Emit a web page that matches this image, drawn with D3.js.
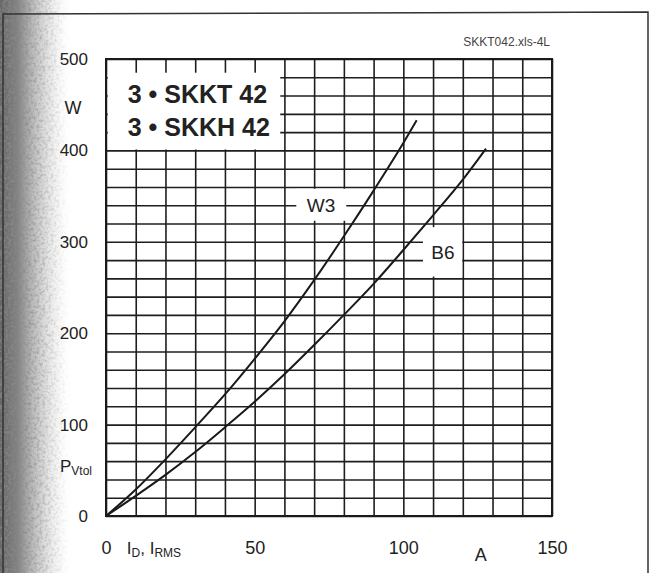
<!DOCTYPE html>
<html>
<head>
<meta charset="utf-8">
<script src="https://cdn.jsdelivr.net/npm/d3@7"></script>
<style>
  body { margin: 0; background: #fff; }
  svg { display: block; }
  text { font-family: "Liberation Sans", Arial, sans-serif; fill: #222; }
</style>
</head>
<body>
<div id="chart"></div>
<script>
// curve data: current in A, power loss in W
const w3Current = [0, 10, 20, 30, 40, 50, 60, 70, 80, 90, 100, 104.5];
const w3Power   = [0, 29, 62, 97, 133, 172, 213, 258, 306, 356, 408, 433];
const b6Current = [0, 10, 20, 30, 40, 50, 60, 70, 80, 90, 100, 110, 120, 127.8];
const b6Power   = [0, 22, 45, 70, 97, 125, 155, 187, 220, 254, 291, 329, 368, 402];

const xTicks = [0, 50, 100, 150];
const yTicks = [0, 100, 200, 300, 400, 500];
const legendLines = ["3 \u2022 SKKT 42", "3 \u2022 SKKH 42"];

const W = 653, H = 573;
const margin = {top: 59, right: 101, bottom: 57, left: 106};
const width = W - margin.left - margin.right;
const height = H - margin.top - margin.bottom;

let svg = d3.select('#chart').append('svg')
  .attr('width', W)
  .attr('height', H);

// scanner shadow on the left edge
let defs = svg.append('defs');
let grad = defs.append('linearGradient').attr('id', 'shade').attr('x1', 0).attr('x2', 1);
grad.append('stop').attr('offset', 0).attr('stop-color', '#666').attr('stop-opacity', 1);
grad.append('stop').attr('offset', 0.25).attr('stop-color', '#7c7c7c').attr('stop-opacity', 0.95);
grad.append('stop').attr('offset', 0.55).attr('stop-color', '#aaa').attr('stop-opacity', 0.6);
grad.append('stop').attr('offset', 0.8).attr('stop-color', '#d8d8d8').attr('stop-opacity', 0.3);
grad.append('stop').attr('offset', 1).attr('stop-color', '#fff').attr('stop-opacity', 0);

let noise = defs.append('filter').attr('id', 'grain').attr('x', 0).attr('y', 0).attr('width', 1).attr('height', 1);
noise.append('feTurbulence').attr('type', 'fractalNoise').attr('baseFrequency', 0.35).attr('numOctaves', 3).attr('result', 'n');
noise.append('feColorMatrix').attr('in', 'n').attr('type', 'matrix')
  .attr('values', '0 0 0 0 0.25  0 0 0 0 0.25  0 0 0 0 0.25  0 0 0 2.2 -0.9').attr('result', 'dots');
noise.append('feComposite').attr('in', 'dots').attr('in2', 'SourceGraphic').attr('operator', 'in').attr('result', 'd2');
noise.append('feMerge').call(m => {
  m.append('feMergeNode').attr('in', 'SourceGraphic');
  m.append('feMergeNode').attr('in', 'd2');
});

svg.append('rect').attr('x', 0).attr('y', 0).attr('width', 70).attr('height', H)
  .attr('fill', 'url(#shade)').attr('filter', 'url(#grain)');

// page frame
svg.append('path')
  .attr('d', 'M3,' + H + ' L3,14 L648,12 L648,' + H)
  .attr('fill', 'none').attr('stroke', '#333').attr('stroke-width', 1.5);

let x = d3.scaleLinear().domain([0, 150]).range([0, width]);
let y = d3.scaleLinear().domain([0, 500]).range([height, 0]);

let chart = svg.append('g').attr('transform', 'translate(' + margin.left + ',' + margin.top + ')');

// grid
chart.append('g')
  .attr('transform', 'translate(0,' + height + ')')
  .call(d3.axisBottom(x).tickValues(d3.range(0, 151, 10)).tickSize(-height).tickFormat(''))
  .call(g => g.select('.domain').remove())
  .call(g => g.selectAll('line').attr('stroke', '#1e1e1e').attr('stroke-width', 1.6));

chart.append('g')
  .call(d3.axisLeft(y).tickValues(d3.range(0, 501, 20)).tickSize(-width).tickFormat(''))
  .call(g => g.select('.domain').remove())
  .call(g => g.selectAll('line').attr('stroke', '#1e1e1e').attr('stroke-width', 1.6));

chart.append('rect')
  .attr('width', width).attr('height', height)
  .attr('fill', 'none').attr('stroke', '#1a1a1a').attr('stroke-width', 2);

// white patches behind the legend and curve labels
function blank(x0, x1, y0, y1) {
  chart.append('rect')
    .attr('x', x(x0)).attr('y', y(y1))
    .attr('width', x(x1) - x(x0)).attr('height', y(y0) - y(y1))
    .attr('fill', '#fff');
}
blank(0.6, 58.6, 401, 485);
blank(64, 80.8, 323, 358);
blank(106.6, 119.8, 262, 316);

// legend text
chart.selectAll('.legend').data(legendLines).enter().append('text')
  .attr('class', 'legend')
  .attr('x', x(7.3))
  .attr('y', (d, i) => y(462 - i * 36))
  .attr('font-size', 25).attr('font-weight', 'bold')
  .attr('dominant-baseline', 'central')
  .text(d => d);

// curves
let line = d3.line().x(d => x(d[0])).y(d => y(d[1])).curve(d3.curveMonotoneX);
let series = [
  {name: 'W3', pts: d3.zip(w3Current, w3Power), lx: 72.3, ly: 340},
  {name: 'B6', pts: d3.zip(b6Current, b6Power), lx: 113.3, ly: 288}
];
chart.selectAll('.curve').data(series).enter().append('path')
  .attr('class', 'curve')
  .attr('d', d => line(d.pts))
  .attr('fill', 'none').attr('stroke', '#1a1a1a').attr('stroke-width', 2);

chart.selectAll('.clabel').data(series).enter().append('text')
  .attr('class', 'clabel')
  .attr('x', d => x(d.lx)).attr('y', d => y(d.ly))
  .attr('text-anchor', 'middle').attr('dominant-baseline', 'central')
  .attr('font-size', 19)
  .text(d => d.name);

// axis labels
chart.append('g')
  .attr('transform', 'translate(-15,0)')
  .call(d3.axisLeft(y).tickValues(yTicks).tickSize(0))
  .call(g => g.select('.domain').remove())
  .call(g => g.selectAll('text').attr('font-size', 17).attr('font-family', null).attr('fill', '#222'));

chart.append('g')
  .attr('transform', 'translate(0,' + (height + 32) + ')')
  .call(d3.axisBottom(x).tickValues(xTicks).tickSize(0).tickPadding(0))
  .call(g => g.select('.domain').remove())
  .call(g => g.selectAll('text').attr('font-size', 18).attr('font-family', null).attr('fill', '#222')
    .attr('dy', null).attr('dominant-baseline', 'central'));

chart.append('text')
  .attr('x', -33).attr('y', y(446))
  .attr('text-anchor', 'middle').attr('dominant-baseline', 'central')
  .attr('font-size', 18).text('W');

let pv = chart.append('text')
  .attr('x', -46).attr('y', y(55) + 6)
  .attr('font-size', 17);
pv.append('tspan').text('P');
pv.append('tspan').attr('font-size', 12).attr('dy', 3).text('Vtol');

chart.append('text')
  .attr('x', x(126)).attr('y', height + 39)
  .attr('text-anchor', 'middle').attr('dominant-baseline', 'central')
  .attr('font-size', 18).text('A');

let cur = chart.append('text')
  .attr('x', x(7)).attr('y', height + 38)
  .attr('font-size', 17);
cur.append('tspan').text('I');
cur.append('tspan').attr('font-size', 12).attr('dy', 3).text('D');
cur.append('tspan').attr('dy', -3).text(', I');
cur.append('tspan').attr('font-size', 12).attr('dy', 3).text('RMS');

chart.append('text')
  .attr('x', width - 2).attr('y', -13)
  .attr('text-anchor', 'end')
  .attr('font-size', 12).style('fill', '#444')
  .text('SKKT042.xls-4L');
</script>
</body>
</html>
